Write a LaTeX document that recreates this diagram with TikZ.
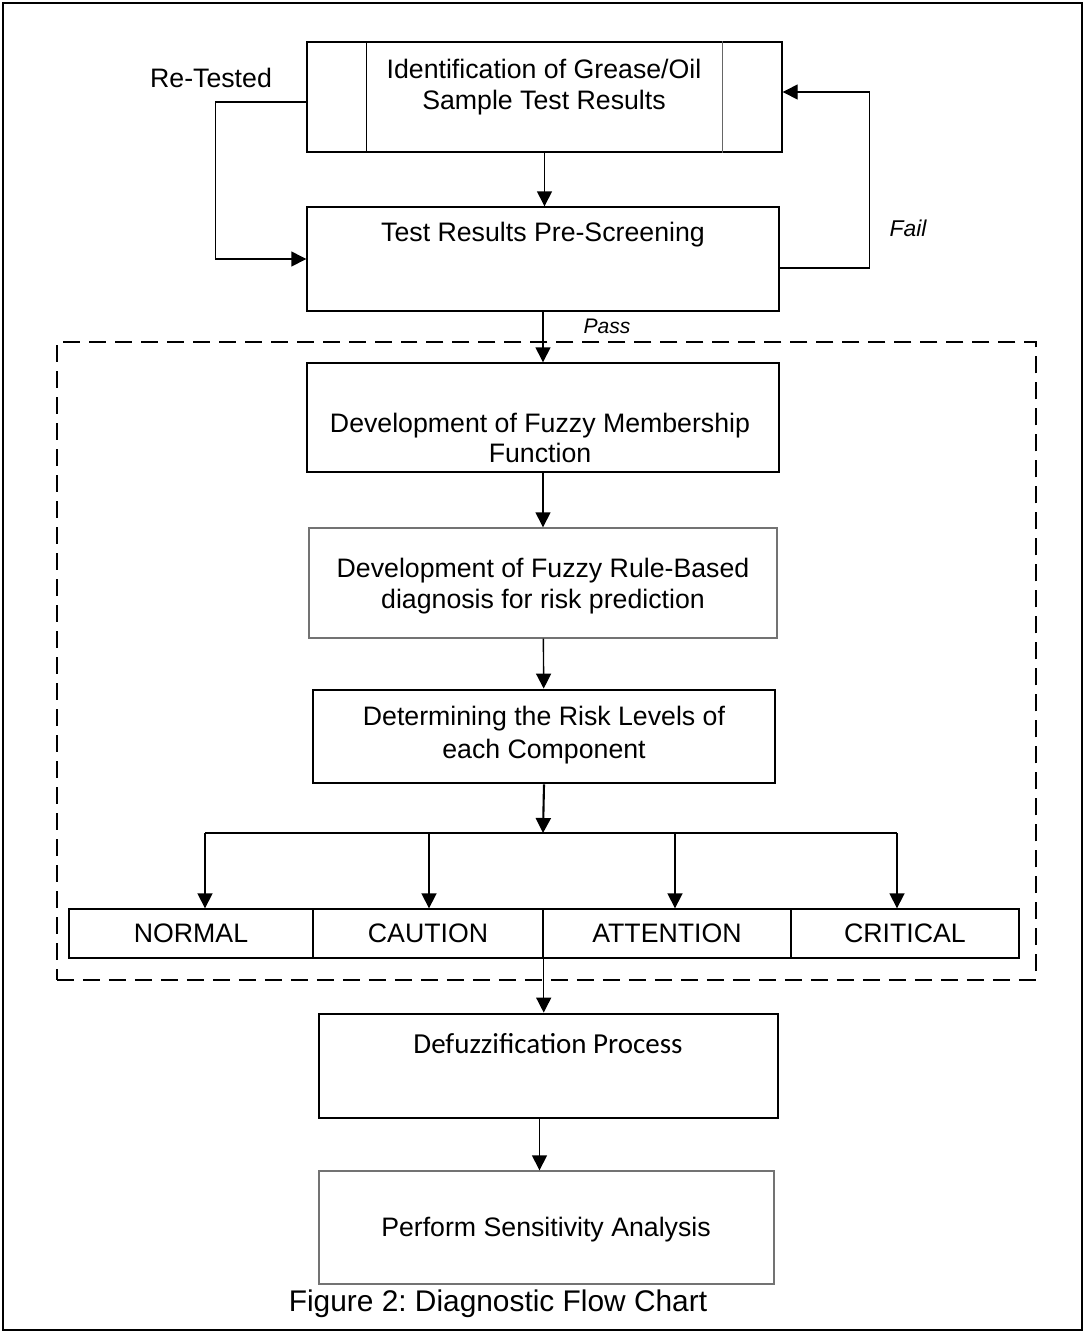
\documentclass[tikz,border=0pt]{standalone}
\usepackage{fontspec}
\setmainfont{Liberation Sans}
\newfontfamily\calibri{Carlito}
\usetikzlibrary{arrows.meta,fit}
\frenchspacing

\begin{document}
\begin{tikzpicture}[x=0.02cm,y=-0.02cm,
  every node/.style={font=\fontsize{15.2}{17.2}\selectfont},
  box/.style={draw,inner sep=0pt,line width=0.8pt},
  greybox/.style={box,draw=black!55},
  thickbox/.style={box,line width=1.6pt},
  txt/.style={align=center,inner sep=0pt},
  arr/.style={-{Triangle[length=0.3cm,width=0.3cm]},line width=0.8pt}]
\useasboundingbox (0,0) rectangle (1085,1333);
\draw[line width=1.2pt] (3,3) rectangle (1082,1330);

% sample and pre-screening
\node[box,fit={(307,42) (782,152)}] (ident) {};
\draw[line width=0.8pt] ([xshift=1.2cm]ident.north west) -- ([xshift=1.2cm]ident.south west);
\draw[line width=0.8pt,black!60] ([xshift=-1.2cm]ident.north east) -- ([xshift=-1.2cm]ident.south east);
\node[txt,font=\fontsize{15.2}{18}\selectfont] (identtxt) at (544,87) {Identification of Grease/Oil\\Sample Test Results};

\node[box,fit={(307,207) (779,311)}] (prescreen) {};
\node[txt] (prescreentxt) at (543,235) {Test Results Pre-Screening};

\node[txt] (retested) at (211,78) {Re-Tested};
\node[txt,font=\fontsize{13}{15}\selectfont\itshape] (fail) at (908,228) {Fail};
\node[txt,font=\fontsize{12}{14}\selectfont\itshape] (pass) at (607,326) {Pass};

\draw[arr] (ident.south) -- (ident.south |- prescreen.north);
\draw[arr] ([yshift=-0.1cm]ident.west) -- ++(-91,0) |- (prescreen.west);
\draw[arr] ([yshift=-0.18cm]prescreen.east) -- ++(90,0) |- ([yshift=0.1cm]ident.east);

% fuzzy part
\node[draw,dash pattern=on 0.34cm off 0.18cm,line width=0.8pt,inner sep=0pt,fit={(57,342) (1036,980)}] (fuzzy) {};

\node[box,fit={(307,363) (779,472)}] (member) {};
\node[txt] (membertxt) at (540,438) {Development of Fuzzy Membership\\Function};
\node[greybox,fit={(309,528) (777,638)}] (rules) {};
\node[txt] (rulestxt) at (543,586) {Development of Fuzzy Rule-Based\\diagnosis for risk prediction};
\node[thickbox,fit={(313,690) (775,783)}] (risk) {};
\node[txt,font=\fontsize{15.2}{18.5}\selectfont] (risktxt) at (544,735) {Determining the Risk Levels of\\each Component};

\draw[arr] (prescreen.south) -- (member.north);
\draw[arr] (member) -- (rules);
\draw[arr] (rules) -- (risk);

% risk levels
\node[box,fit={(69,909) (313,958)}] (normal) {};
\node[box,fit={(313,909) (543,958)}] (caution) {};
\node[box,fit={(543,909) (791,958)}] (attention) {};
\node[box,fit={(791,909) (1019,958)}] (critical) {};
\node[txt] (normaltxt) at (normal) {NORMAL};
\node[txt] (cautiontxt) at (caution) {CAUTION};
\node[txt] (attentiontxt) at (attention) {ATTENTION};
\node[txt] (criticaltxt) at (critical) {CRITICAL};

\coordinate (branch) at (543,833);
\coordinate (b1) at (205,833);
\coordinate (b2) at (429,833);
\coordinate (b3) at (675,833);
\coordinate (b4) at (897,833);
\draw[arr,line width=1.2pt] (risk.south) -- (branch);
\draw[line width=1pt] (b1) -- (b4);
\foreach \drop/\lvl in {b1/normal,b2/caution,b3/attention,b4/critical}
  \draw[arr,line width=1pt] (\drop) -- (\drop |- \lvl.north);

% defuzzification
\node[thickbox,fit={(319,1014) (778,1118)}] (defuzz) {};
\node[txt,font=\calibri\fontsize{16.5}{20}\selectfont] (defuzztxt) at (548,1044) {Defuzzification Process};
\node[greybox,fit={(319,1171) (774,1284)}] (sens) {};
\node[txt] (senstxt) at (546,1230) {Perform Sensitivity Analysis};

\draw[arr] (caution.south east) -- (caution.south east |- defuzz.north);
\draw[arr] ([xshift=-0.18cm]defuzz.south) -- ([xshift=-0.18cm]defuzz.south |- sens.north);

\node[txt,font=\fontsize{17}{20}\selectfont] (caption) at (498,1304) {Figure 2: Diagnostic Flow Chart};
\end{tikzpicture}
\end{document}
